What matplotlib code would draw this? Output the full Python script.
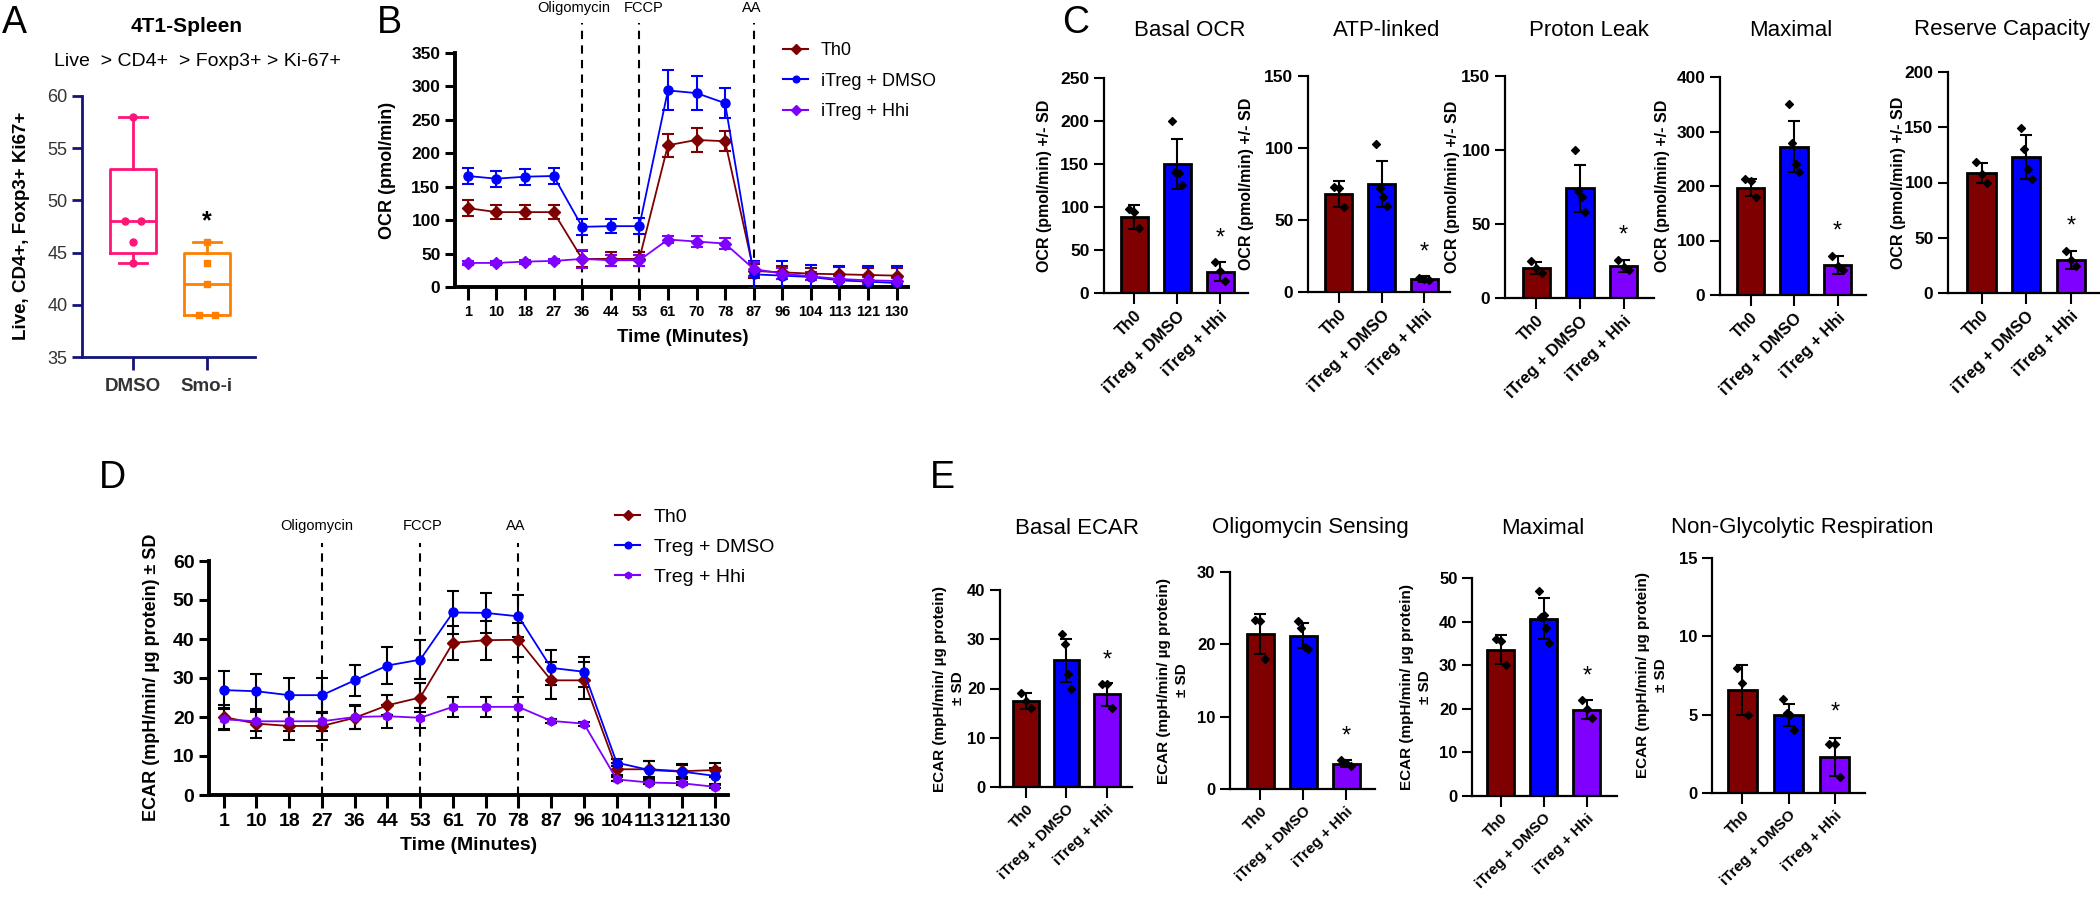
import numpy as np
import matplotlib
matplotlib.use('Agg')
import matplotlib.pyplot as plt
from matplotlib.lines import Line2D

plt.rcParams['font.family'] = ['Liberation Sans', 'DejaVu Sans']

W, H = 2100, 900

# ---------------- data ----------------
# A: Ki-67+ Tregs in spleen
box_groups = ['DMSO', 'Smo-i']
dmso_ki67 = [58, 48, 48, 46, 44]
smoi_ki67 = [46, 44, 42, 39, 39]

# B / D: time course
time_labels = ['1', '10', '18', '27', '36', '44', '53', '61', '70', '78',
               '87', '96', '104', '113', '121', '130']

ocr_th0 = [118, 112, 112, 112, 42, 42, 42, 212, 220, 218, 24, 22, 20, 19, 18, 17]
ocr_th0_sd = [12, 11, 10, 10, 12, 10, 10, 17, 18, 15, 10, 10, 9, 11, 11, 12]
ocr_dmso = [166, 162, 165, 166, 90, 91, 91, 294, 290, 275, 19, 17, 15, 10, 8, 6]
ocr_dmso_sd = [12, 12, 12, 12, 12, 10, 12, 30, 25, 22, 20, 22, 18, 22, 24, 25]
ocr_hhi = [36, 36, 38, 39, 42, 40, 40, 71, 68, 65, 27, 20, 16, 12, 10, 9]
ocr_hhi_sd = [3, 3, 3, 3, 14, 8, 8, 5, 8, 8, 10, 8, 6, 5, 5, 5]

ecar_th0 = [20, 18.3, 17.7, 17.7, 19.8, 23, 25, 39, 39.7, 39.8, 29.4, 29.4, 6.6, 6.6, 6.1, 6.4]
ecar_th0_sd = [3, 3.6, 3.5, 3.5, 3, 2.6, 3.8, 4.3, 5, 4.4, 4.7, 4.7, 1.5, 2, 1.5, 1.7]
ecar_dmso = [26.9, 26.6, 25.6, 25.6, 29.4, 33.2, 34.7, 46.8, 46.7, 45.8, 32.6, 31.6, 8.3, 6.4, 6, 4.9]
ecar_dmso_sd = [4.8, 4.5, 4.3, 4.5, 3.9, 4.8, 5, 5.5, 5.2, 5.4, 4.5, 3.8, 0.9, 2.4, 1.9, 2]
ecar_hhi = [19.4, 18.9, 18.9, 18.9, 20, 20.2, 19.8, 22.6, 22.6, 22.6, 19, 18.3, 4, 3.2, 3, 2.1]
ecar_hhi_sd = [2.8, 2.5, 2.5, 2.5, 3, 3, 2.5, 2.6, 2.6, 2.6, 0.5, 0.5, 0.5, 0.5, 0.4, 0.4]

# C / E: bar summaries
bar_groups = ['Th0', 'iTreg + DMSO', 'iTreg + Hhi']

basal_ocr_mean = [88, 150, 25]
basal_ocr_sd = [14, 29, 11]
basal_ocr_pts = [[98, 94, 76], [200, 141, 139, 126], [36, 26, 14]]

atp_mean = [68, 75, 9]
atp_sd = [9, 16, 2]
atp_pts = [[73, 72, 59], [103, 72, 66, 60], [10, 9, 8]]

leak_mean = [20.5, 74, 21.5]
leak_sd = [4, 16, 4]
leak_pts = [[25, 20, 17], [100, 72, 68, 58], [26, 21, 19]]

max_ocr_mean = [197, 272, 55]
max_ocr_sd = [16, 47, 17]
max_ocr_pts = [[213, 210, 180], [350, 278, 241, 225], [71, 53, 45]]

reserve_mean = [109, 123, 30]
reserve_sd = [9, 20, 8]
reserve_pts = [[119, 108, 100], [149, 130, 112, 103], [38, 30, 24]]

basal_ecar_mean = [17.5, 25.7, 18.8]
basal_ecar_sd = [1.6, 4.4, 2.4]
basal_ecar_pts = [[19, 17.5, 16], [31, 29, 23, 20], [21, 21, 16]]

oligo_mean = [21.4, 21.2, 3.5]
oligo_sd = [2.8, 1.7, 0.5]
oligo_pts = [[23.3, 23.2, 18], [23.2, 22.3, 19.6, 19.3], [4, 3.6, 3.2]]

max_ecar_mean = [33.6, 40.7, 19.8]
max_ecar_sd = [3.4, 4.6, 2.2]
max_ecar_pts = [[36, 35.5, 30], [47, 41, 41.5, 38.5, 35], [22, 20, 18]]

nonglyc_mean = [6.6, 5.0, 2.3]
nonglyc_sd = [1.6, 0.7, 1.2]
nonglyc_pts = [[8, 7, 5], [6, 5.1, 5, 4], [3.1, 3.1, 1]]

# ---------------- style ----------------
TH0_C = '#7f0000'
DMSO_C = '#0000ff'
HHI_C = '#8000ff'
bar_colors = [TH0_C, DMSO_C, HHI_C]
NAVY = '#14147a'

fig = plt.figure(figsize=(21, 9), dpi=100)


def add_ax(x0, y0, x1, y1):
    # pixel box (from top-left) -> figure fraction
    return fig.add_axes([x0 / W, 1 - y1 / H, (x1 - x0) / W, (y1 - y0) / H])


def fig_text(x, y, s, **kw):
    kw.setdefault('ha', 'center')
    kw.setdefault('va', 'center')
    return fig.text(x / W, 1 - y / H, s, **kw)


# panel letters
for letter, (lx, ly) in zip('ABCDE', [(14, 23), (389, 23), (1076, 23), (112, 478), (942, 478)]):
    fig_text(lx, ly, letter, fontsize=27)

# ---------------- A ----------------
axA = add_ax(82, 96, 255, 357)


def box_stats(vals, label):
    q1, med, q3 = np.percentile(vals, [25, 50, 75], method='weibull')
    return dict(label=label, med=med, q1=q1, q3=q3, whislo=min(vals), whishi=max(vals), fliers=[])


stats = [box_stats(dmso_ki67, box_groups[0]), box_stats(smoi_ki67, box_groups[1])]
box_cols = ['#ff1478', '#ff7f00']
arts = axA.bxp(stats, positions=[1, 2], widths=0.62, showfliers=False, capwidths=0.38)
for i, c in enumerate(box_cols):
    arts['boxes'][i].set(color=c, linewidth=2)
    arts['medians'][i].set(color=c, linewidth=2)
    for k in (2 * i, 2 * i + 1):
        arts['whiskers'][k].set(color=c, linewidth=2)
        arts['caps'][k].set(color=c, linewidth=2)
for i, (vals, c, m) in enumerate(zip([dmso_ki67, smoi_ki67], box_cols, ['o', 's'])):
    vals = np.array(vals, dtype=float)
    xs = np.full(len(vals), i + 1.0)
    for v in np.unique(vals):
        idx = np.where(vals == v)[0]
        if len(idx) > 1:
            xs[idx] += np.linspace(-0.11, 0.11, len(idx))
    axA.plot(xs, vals, m, color=c, markersize=5, zorder=4)
axA.text(2, max(smoi_ki67) + 2, '*', ha='center', va='center', fontsize=18, fontweight='bold')
axA.set_xlim(0.31, 2.65)
axA.set_ylim(35, 60)
axA.set_yticks(range(35, 61, 5))
axA.set_xticks([1, 2])
axA.set_xticklabels(box_groups, fontsize=13.5, fontweight='bold', color='#333333')
axA.tick_params(axis='y', labelsize=13, labelcolor='#333333', length=7, width=2, color=NAVY)
axA.tick_params(axis='x', length=9, width=2, color=NAVY, pad=6)
for s in ('top', 'right'):
    axA.spines[s].set_visible(False)
for s in ('left', 'bottom'):
    axA.spines[s].set_color(NAVY)
    axA.spines[s].set_linewidth(2)
fig_text(187, 27, '4T1-Spleen', fontsize=15, fontweight='bold')
fig_text(197, 62, 'Live  > CD4+  > Foxp3+ > Ki-67+', fontsize=14)
fig_text(22, 226, 'Live, CD4+, Foxp3+ Ki67+', fontsize=13.5, fontweight='bold', rotation=90)


# ---------------- time-course panels ----------------
def time_panel(box, series, ymax, ystep, top_px, line_idx, ebar_black, tick_fs, ytick_fs):
    ax = add_ax(*box)
    x = np.arange(len(time_labels))
    handles = []
    for vals, sd, col, mk, lab in series:
        ecol = 'black' if ebar_black else col
        ax.errorbar(x, vals, yerr=sd, color=col, ecolor=ecol, marker=mk, markersize=6.5,
                    linewidth=1.3, elinewidth=1.5, capsize=4, capthick=1.5, zorder=3)
        handles.append(Line2D([], [], color=col, marker=mk, markersize=6, linewidth=1.5, label=lab))
    frac = (box[3] - top_px) / (box[3] - box[1])
    for i in line_idx:
        ax.axvline(i, ymin=0, ymax=frac, color='black', linestyle=(0, (4, 3)), linewidth=1.5,
                   clip_on=False, zorder=2)
    ax.set_xlim(-0.45, len(time_labels) - 1 + 0.4)
    ax.set_ylim(0, ymax)
    ax.set_yticks(np.arange(0, ymax + 1, ystep))
    ax.set_xticks(x)
    ax.set_xticklabels(time_labels)
    for t in ax.get_xticklabels():
        t.set_fontweight('bold')
        t.set_fontsize(tick_fs)
    for t in ax.get_yticklabels():
        t.set_fontweight('bold')
        t.set_fontsize(ytick_fs)
    ax.tick_params(axis='both', width=2.2, length=7)
    ax.tick_params(axis='x', length=9, pad=4)
    for s in ('top', 'right'):
        ax.spines[s].set_visible(False)
    for s in ('left', 'bottom'):
        ax.spines[s].set_linewidth(2.8)
    return ax, handles


axB, hB = time_panel((455, 53, 908, 287),
                     [(ocr_th0, ocr_th0_sd, TH0_C, 'D', 'Th0'),
                      (ocr_dmso, ocr_dmso_sd, DMSO_C, 'o', 'iTreg + DMSO'),
                      (ocr_hhi, ocr_hhi_sd, HHI_C, 'D', 'iTreg + Hhi')],
                     350, 50, 23, [4, 6, 10], False, 10.5, 12.5)
fig_text(388, 170, 'OCR (pmol/min)', fontsize=13, fontweight='bold', rotation=90)
fig_text(683, 337, 'Time (Minutes)', fontsize=13.5, fontweight='bold')
fig_text(574, 8, 'Oligomycin', fontsize=10.5)
fig_text(644, 8, 'FCCP', fontsize=10.5)
fig_text(752, 8, 'AA', fontsize=10.5)
axB.legend(handles=hB, loc='upper left', bbox_to_anchor=(783 / W, 1 - 42 / H),
           bbox_transform=fig.transFigure, frameon=False, fontsize=13, handlelength=1.4,
           handletextpad=0.7, labelspacing=0.75, borderpad=0, borderaxespad=0, markerscale=0.8)

axD, hD = time_panel((209, 561, 728, 795),
                     [(ecar_th0, ecar_th0_sd, TH0_C, 'D', 'Th0'),
                      (ecar_dmso, ecar_dmso_sd, DMSO_C, 'o', 'Treg + DMSO'),
                      (ecar_hhi, ecar_hhi_sd, HHI_C, 'h', 'Treg + Hhi')],
                     60, 10, 543, [3, 6, 9], True, 14, 14)
fig_text(152, 677, 'ECAR (mpH/min/ µg protein) ± SD', fontsize=13, fontweight='bold', rotation=90)
fig_text(469, 845, 'Time (Minutes)', fontsize=14, fontweight='bold')
fig_text(317, 526, 'Oligomycin', fontsize=10.5)
fig_text(423, 526, 'FCCP', fontsize=10.5)
fig_text(516, 526, 'AA', fontsize=10.5)
axD.legend(handles=hD, loc='upper left', bbox_to_anchor=(615 / W, 1 - 508 / H),
           bbox_transform=fig.transFigure, frameon=False, fontsize=14, handlelength=1.3,
           handletextpad=0.7, labelspacing=0.65, borderpad=0, borderaxespad=0, markerscale=0.8)


# ---------------- bar panels ----------------
def bar_panel(box, means, sds, pts, ymax, ystep, xlo, xhi, ylabel, ylabel_x, ylabel_fs,
              title, title_xy, title_y, tick_fs, xlab_fs):
    ax = add_ax(*box)
    x = np.arange(len(bar_groups))
    ax.bar(x, means, width=0.63, color=bar_colors, edgecolor='black', linewidth=2, zorder=2)
    ax.errorbar(x, means, yerr=sds, fmt='none', ecolor='black', elinewidth=1.5,
                capsize=4.5, capthick=1.5, zorder=3)
    for i, p in enumerate(pts):
        off = np.linspace(-0.12, 0.12, len(p))
        ax.scatter(x[i] + off, p, marker='D', s=16, color='black', zorder=4)
    top = max(means[2] + sds[2], max(pts[2]))
    ax.text(x[2], top + 0.11 * ymax, '*', ha='center', va='center', fontsize=17)
    ax.set_xlim(xlo, xhi)
    ax.set_ylim(0, ymax)
    ax.set_yticks(np.arange(0, ymax + 0.01, ystep))
    ax.set_xticks(x)
    ax.set_xticklabels(bar_groups, rotation=45, ha='right', rotation_mode='anchor',
                       fontsize=xlab_fs, fontweight='bold')
    for t in ax.get_yticklabels():
        t.set_fontweight('bold')
        t.set_fontsize(tick_fs)
    ax.tick_params(axis='both', width=1.5, length=7)
    ax.tick_params(axis='x', length=8, pad=3)
    for s in ('top', 'right'):
        ax.spines[s].set_visible(False)
    for s in ('left', 'bottom'):
        ax.spines[s].set_linewidth(1.6)
    fig_text(ylabel_x, (box[1] + box[3]) / 2, ylabel, fontsize=ylabel_fs, fontweight='bold',
             rotation=90, linespacing=1.35)
    fig_text(title_xy, title_y, title, fontsize=16)
    return ax


ocr_lab = 'OCR (pmol/min) +/- SD'
bar_panel((1104, 78, 1248, 293), basal_ocr_mean, basal_ocr_sd, basal_ocr_pts, 250, 50, -0.7, 2.65,
          ocr_lab, 1045, 11.5, 'Basal OCR', 1190, 30, 12.5, 12)
bar_panel((1308, 76, 1450, 292), atp_mean, atp_sd, atp_pts, 150, 50, -0.72, 2.6,
          ocr_lab, 1247, 11.5, 'ATP-linked', 1387, 30, 12.5, 12)
bar_panel((1505, 76, 1654, 298), leak_mean, leak_sd, leak_pts, 150, 50, -0.72, 2.7,
          ocr_lab, 1452, 11.5, 'Proton Leak', 1589, 30, 12.5, 12)
bar_panel((1720, 77, 1866, 295), max_ocr_mean, max_ocr_sd, max_ocr_pts, 400, 100, -0.7, 2.65,
          ocr_lab, 1662, 11.5, 'Maximal', 1791, 30, 12.5, 12)
bar_panel((1948, 72, 2100, 293), reserve_mean, reserve_sd, reserve_pts, 200, 50, -0.75, 2.65,
          ocr_lab, 1899, 11.5, 'Reserve Capacity', 2002, 30, 12.5, 12)

ecar_lab = 'ECAR (mpH/min/ µg protein)\n± SD'
bar_panel((1000, 590, 1132, 787), basal_ecar_mean, basal_ecar_sd, basal_ecar_pts, 40, 10, -0.64, 2.62,
          ecar_lab, 949, 11, 'Basal ECAR', 1077, 528, 12, 11)
bar_panel((1230, 572, 1375, 789), oligo_mean, oligo_sd, oligo_pts, 30, 10, -0.7, 2.67,
          ecar_lab, 1173, 11, 'Oligomycin Sensing', 1310, 528, 12, 11)
bar_panel((1472, 578, 1617, 796), max_ecar_mean, max_ecar_sd, max_ecar_pts, 50, 10, -0.67, 2.7,
          ecar_lab, 1416, 11, 'Maximal', 1543, 528, 12, 11)
bar_panel((1712, 558, 1865, 793), nonglyc_mean, nonglyc_sd, nonglyc_pts, 15, 5, -0.65, 2.65,
          ecar_lab, 1652, 11, 'Non-Glycolytic Respiration', 1802, 528, 12, 11)

fig.savefig('out.png', dpi=100)
